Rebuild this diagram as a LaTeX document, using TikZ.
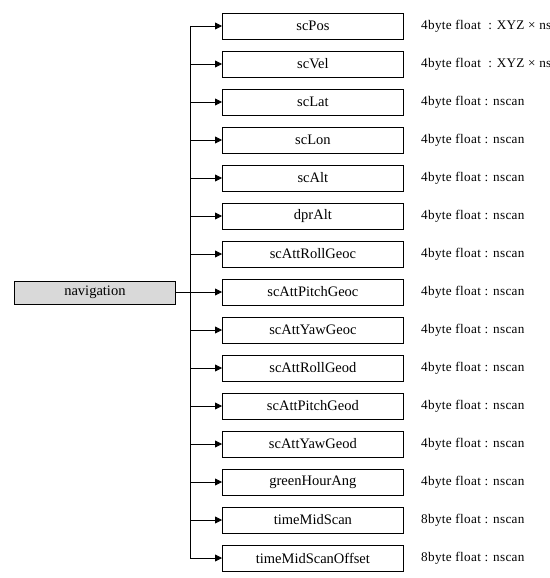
\documentclass[tikz,border=0pt]{standalone}
\usepackage{fontspec}
\setmainfont{Liberation Serif}
\newfontfamily\labelfont[LetterSpace=2.5]{Liberation Serif}
\usetikzlibrary{arrows.meta}
\begin{document}
\begin{tikzpicture}[x=1pt,y=-1pt,
  fieldbox/.style={draw, line width=0.8pt, minimum width=181pt, minimum height=26pt, inner sep=0pt, font=\fontsize{14.5}{14.5}\selectfont, anchor=west},
  rootbox/.style={draw, line width=0.8pt, fill=gray!30, minimum width=161pt, minimum height=23pt, inner sep=0pt, font=\fontsize{14.5}{14.5}\selectfont, anchor=west},
  typelabel/.style={anchor=west, inner sep=0pt, font=\labelfont\fontsize{13.2}{13.2}\selectfont},
  conn/.style={line width=0.8pt},
  arr/.style={conn, -{Triangle[length=7pt,width=7pt]}}]
\useasboundingbox (0,0) rectangle (549,578);
\clip (0,0) rectangle (549,578);
\node[rootbox] (nav) at (14,292.5) {navigation};
\coordinate (top) at (190,26);
\coordinate (bot) at (190,558);
\coordinate (mid) at (190,292.5);
\draw[conn] (top) -- (bot);
\draw[conn] (nav.east) -- (mid);
\foreach \name/\lab [count=\i from 0] in {
  scPos/{4byte float \ : XYZ × nscan},
  scVel/{4byte float \ : XYZ × nscan},
  scLat/{4byte float : nscan},
  scLon/{4byte float : nscan},
  scAlt/{4byte float : nscan},
  dprAlt/{4byte float : nscan},
  scAttRollGeoc/{4byte float : nscan},
  scAttPitchGeoc/{4byte float : nscan},
  scAttYawGeoc/{4byte float : nscan},
  scAttRollGeod/{4byte float : nscan},
  scAttPitchGeod/{4byte float : nscan},
  scAttYawGeod/{4byte float : nscan},
  greenHourAng/{4byte float : nscan},
  timeMidScan/{8byte float : nscan},
  timeMidScanOffset/{8byte float : nscan}} {
  \pgfmathsetmacro{\yy}{26+38*\i}
  \node[fieldbox] (f\i) at (222,\yy) {\name};
  \node[typelabel] (t\i) at (421,\yy) {\lab};
  \coordinate (b\i) at (190,\yy);
  \draw[arr] (b\i) -- (f\i.west);
}
\end{tikzpicture}
\end{document}
